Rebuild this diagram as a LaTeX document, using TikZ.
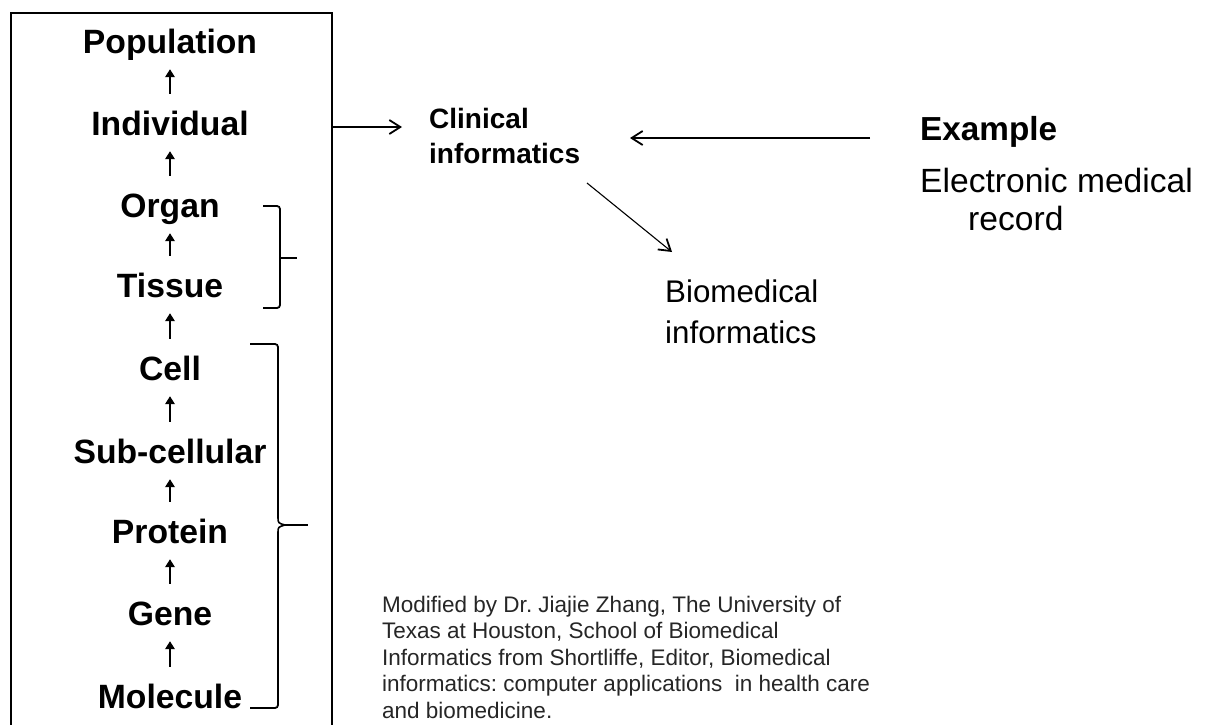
\documentclass[tikz,border=0pt]{standalone}
\usepackage{fontspec}
\setmainfont{Liberation Sans}
\usetikzlibrary{arrows.meta}
\begin{document}
\frenchspacing
\begin{tikzpicture}[x=1pt,y=-1pt,
  level/.style={font=\fontsize{33.7}{40}\selectfont\bfseries, inner sep=0pt,
                text height=24pt, text depth=0pt, anchor=base},
  uparr/.style={line width=1.8pt, -{Triangle[length=8pt,width=9.5pt]},
                shorten <=17pt, shorten >=16pt},
  conn/.style={line width=1.1pt,
               -{Straight Barb[length=11pt,width=14pt,line width=1.8pt]}},
  brace/.style={line width=1.8pt, rounded corners=3pt},
  label/.style={inner sep=0pt, anchor=base west, align=left},
]
\clip (0,0) rectangle (1208,724);
\fill[white] (0,0) rectangle (1208,724);

% frame around the hierarchy of levels (open at the bottom)
\node[draw, line width=1.8pt, minimum width=321pt, minimum height=760pt,
      anchor=north west, inner sep=0pt] (box) at (10,12) {};

% levels of biological organisation
\node[level] (pop) at (170,53)  {Population};
\node[level] (ind) at (170,135) {Individual};
\node[level] (org) at (170,217) {Organ};
\node[level] (tis) at (170,297) {Tissue};
\node[level] (cel) at (170,380) {Cell};
\node[level] (sub) at (170,463) {Sub-cellular};
\node[level] (pro) at (170,543) {Protein};
\node[level] (gen) at (170,625) {Gene};
\node[level] (mol) at (170,708) {Molecule};

\foreach \lo/\hi in {ind/pop, org/ind, tis/org, cel/tis, sub/cel,
                     pro/sub, gen/pro, mol/gen}
  \draw[uparr] (\lo.north) -- (\hi.south);

% brace grouping Organ and Tissue
\draw[brace] (263,206) -- (280,206) -- (280,308) -- (263,308);
\draw[line width=1.8pt] (280,258) -- (297,258);

% brace grouping Cell down to Molecule
\draw[brace] (250,344) -- (278,344) -- (278,517);
\draw[line width=1.6pt] (278,517) .. controls (278,523) .. (285,525)
                        .. controls (278,527) .. (278,533);
\draw[brace] (278,533) -- (278,708) -- (250,708);
\draw[line width=1.6pt] (285,525) -- (308,525);

% informatics fields (multi-line labels are placed by their last baseline)
\node[label, font=\fontsize{28}{35}\selectfont\bfseries] (clin) at (429,163)
  {Clinical\\informatics};
\node[label, font=\fontsize{31.3}{41}\selectfont] (bio) at (665,343)
  {Biomedical\\informatics};
\node[label, font=\fontsize{33.3}{38}\selectfont\bfseries] (ex) at (920,140)
  {Example};
\node[label, font=\fontsize{33.6}{38}\selectfont] (emr) at (920,230)
  {Electronic medical\\\hspace*{48pt}record};

% connectors
\coordinate (clin-in)  at (402,127);
\coordinate (ex-out)   at (870,138);
\coordinate (clin-in2) at (630,138);
\coordinate (clin-out) at (587,183);
\coordinate (bio-in)   at (672,252);
\draw[conn] (box.east |- clin-in) -- (clin-in);
\draw[conn] (ex-out) -- (clin-in2);
\draw[conn] (clin-out) -- (bio-in);

% source note
\node[label, font=\fontsize{22.5}{26.5}\selectfont, text=black!85] (note)
  at (382,718)
  {Modified by Dr.\ Jiajie Zhang, The University of\\
   Texas at Houston, School of Biomedical\\
   Informatics from Shortliffe, Editor, Biomedical\\
   informatics: computer applications\ \ in health care\\
   and biomedicine.};
\end{tikzpicture}
\end{document}
